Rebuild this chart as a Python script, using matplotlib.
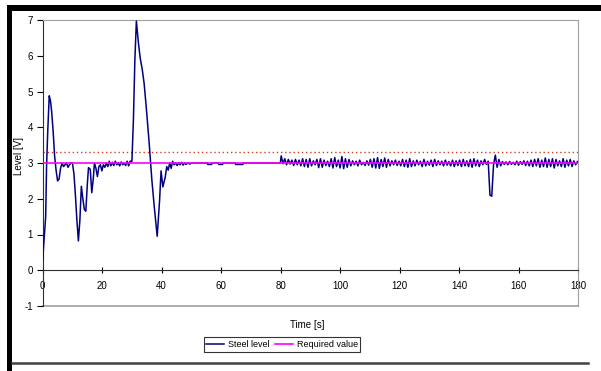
import numpy as np
import matplotlib
matplotlib.use("Agg")
import matplotlib.pyplot as plt
from matplotlib.patches import Rectangle
from matplotlib.lines import Line2D

plt.rcParams['font.family'] = ['Liberation Sans', 'DejaVu Sans']
plt.rcParams['axes.unicode_minus'] = False

# ---- data ----
early_time = [0.0, 0.5, 1.0, 1.3, 1.7, 2.2, 2.6, 3.0, 3.5, 4.0, 4.5, 5.0, 5.5, 6.0, 6.5, 7.0,
              7.5, 8.0, 8.5, 9.0, 9.5, 10.0, 10.5, 11.0, 11.5, 12.0, 12.5, 13.0, 13.5, 14.0,
              14.5, 15.0, 15.4, 16.0, 16.5, 17.0, 17.4, 17.9, 18.4, 18.9, 19.4, 19.9, 20.4,
              20.9, 21.4, 21.9, 22.4, 22.9, 23.4, 23.9, 24.4, 24.9, 25.4, 25.9, 26.4, 26.9,
              27.4, 27.9, 28.4, 28.9, 29.4, 30.0, 30.5, 31.0, 31.5, 32.2, 32.8, 33.5, 34.1,
              34.8, 35.8, 36.7, 37.5, 38.5, 39.3, 39.8, 40.4, 41.2, 41.7, 42.2, 42.7, 43.2,
              43.7, 44.2, 44.7, 45.2, 45.7, 46.2, 46.7, 47.2, 47.7, 48.2, 48.7, 49.5, 50.0,
              51.0, 55.3, 55.5, 56.8, 57.0, 59.0, 59.2, 60.5, 60.7, 64.7, 64.9, 67.3, 67.5,
              79.9]
early_level = [0.30, 0.90, 1.50, 2.90, 3.90, 4.88, 4.75, 4.45, 3.90, 3.20, 2.80, 2.50, 2.55,
               2.85, 3.00, 2.90, 2.95, 3.00, 2.88, 2.95, 3.00, 3.00, 2.70, 2.10, 1.40, 0.82,
               1.40, 2.35, 2.00, 1.70, 1.65, 2.40, 2.87, 2.82, 2.17, 2.55, 3.00, 2.85, 2.62,
               2.90, 2.95, 2.78, 2.95, 2.88, 3.00, 2.90, 3.05, 2.92, 3.02, 2.93, 3.05, 2.95,
               3.00, 2.92, 3.03, 2.95, 3.00, 2.93, 3.05, 2.92, 3.05, 3.05, 4.20, 5.90, 6.97,
               6.35, 5.93, 5.60, 5.23, 4.58, 3.56, 2.53, 1.79, 0.95, 1.95, 2.78, 2.33, 2.60,
               2.90, 2.80, 3.00, 2.85, 3.05, 2.95, 3.00, 2.93, 3.00, 2.95, 3.02, 2.94, 3.00,
               2.96, 3.00, 2.97, 3.00, 3.00, 3.00, 2.96, 2.96, 3.00, 3.00, 2.96, 2.96, 3.00,
               3.00, 2.96, 2.96, 3.00, 3.00]

# later part sampled every 0.6 s starting at 80.2 s
late_start = 80.2
late_step = 0.6
late_level = [
    3.20, 2.98, 3.12, 2.95, 3.10, 2.97, 3.08, 2.93, 3.10, 2.95,
    3.08, 2.92, 3.12, 2.90, 3.10, 2.88, 3.12, 2.92, 3.06, 2.95,
    3.10, 2.87, 3.12, 2.88, 3.08, 2.93, 3.05, 2.90, 3.12, 2.86,
    3.15, 2.90, 3.08, 2.86, 3.18, 2.84, 3.12, 2.88, 3.10, 2.92,
    3.06, 2.95, 3.05, 2.92, 3.08, 2.95, 3.02, 2.93, 3.06, 2.94,
    3.10, 2.88, 3.12, 2.86, 3.15, 2.85, 3.10, 2.90, 3.14, 2.88,
    3.10, 2.92, 3.06, 2.95, 3.08, 2.93, 3.05, 2.92, 3.10, 2.90,
    3.08, 2.88, 3.12, 2.90, 3.06, 2.92, 3.08, 2.95, 3.05, 2.90,
    3.10, 2.92, 3.05, 2.94, 3.08, 2.90, 3.10, 2.93, 3.06, 2.95,
    3.05, 2.92, 3.08, 2.94, 3.04, 2.92, 3.08, 2.90, 3.06, 2.93,
    3.08, 2.90, 3.10, 2.92, 3.06, 2.90, 3.10, 2.88, 3.12, 2.92,
    3.08, 2.90, 3.06, 2.95, 3.10, 2.96, 3.05, 2.10, 2.07, 2.95,
    3.22, 2.88, 3.10, 2.92, 3.04, 2.96, 3.03, 2.95, 3.04, 2.96,
    3.02, 2.95, 3.05, 2.94, 3.04, 2.96, 3.06, 2.93, 3.05, 2.92,
    3.08, 2.90, 3.10, 2.92, 3.12, 2.88, 3.08, 2.90, 3.14, 2.88,
    3.10, 2.90, 3.12, 2.86, 3.10, 2.92, 3.06, 2.90, 3.12, 2.88,
    3.08, 2.92, 3.10, 2.90, 3.06, 2.95, 3.04]

required_time = [0, 180]
required_value = [3.0, 3.0]
limit_value = 3.3

x_ticks = [0, 20, 40, 60, 80, 100, 120, 140, 160, 180]
y_ticks = [-1, 0, 1, 2, 3, 4, 5, 6, 7]

late_time = late_start + late_step * np.arange(len(late_level))
time = np.concatenate([early_time, late_time])
level = np.concatenate([early_level, late_level])

# ---- figure ----
fig = plt.figure(figsize=(6.01, 3.71), dpi=100)
fig.patch.set_facecolor('white')

# frame decorations (black bands)
fig.patches.append(Rectangle((7/601, 1-11/371), 1-7/601, 6/371, transform=fig.transFigure,
                             facecolor='black', edgecolor='none', zorder=0))
fig.patches.append(Rectangle((7/601, 0), 5/601, 1-5/371, transform=fig.transFigure,
                             facecolor='black', edgecolor='none', zorder=0))
fig.add_artist(Line2D([12/601, 588/601], [1-362.5/371, 1-362.5/371], transform=fig.transFigure,
                      color='#404040', lw=1.8))

ax = fig.add_axes([42.7/601, 1-306/371, (578-42.7)/601, (306-20)/371])
ax.set_xlim(0, 180)
ax.set_ylim(-1, 7)

ax.plot(time, level, color='#000080', lw=1.1, label='Steel level', zorder=3)
ax.plot(required_time, required_value, color='#ff00ff', lw=1.2, label='Required value', zorder=4)
ax.axhline(limit_value, color='#d04020', lw=1.0, ls=(0, (1, 2)), zorder=2)

for s in ['top', 'right']:
    ax.spines[s].set_color('#a0a0a0')
ax.spines['left'].set_color('#303030')
ax.spines['bottom'].set_position(('data', 0))
ax.spines['bottom'].set_color('#303030')
ax.plot([0, 180], [-1, -1], color='#a0a0a0', lw=1.2, clip_on=False, zorder=1)

ax.set_xticks(x_ticks)
ax.set_yticks(y_ticks)
ax.tick_params(axis='x', direction='inout', length=5, width=0.8, labelsize=7, pad=5)
ax.tick_params(axis='y', direction='out', length=4, width=0.8, labelsize=7, pad=3)

fig.text(0.512, 1-325/371, 'Time [s]', ha='center', va='center', fontsize=7)
fig.text(0.031, 1-156/371, 'Level [V]', ha='center', va='center', rotation=90, fontsize=7)

leg = fig.legend(loc='center', bbox_to_anchor=(282/601, 1-344.7/371), ncol=2, fontsize=6.5,
                 frameon=True, fancybox=False, handlelength=2.0, handletextpad=0.4,
                 columnspacing=0.6, borderpad=0.3, borderaxespad=0)
leg.get_frame().set_edgecolor('black')
leg.get_frame().set_linewidth(0.8)

fig.savefig('out.png', dpi=100, facecolor='white')
